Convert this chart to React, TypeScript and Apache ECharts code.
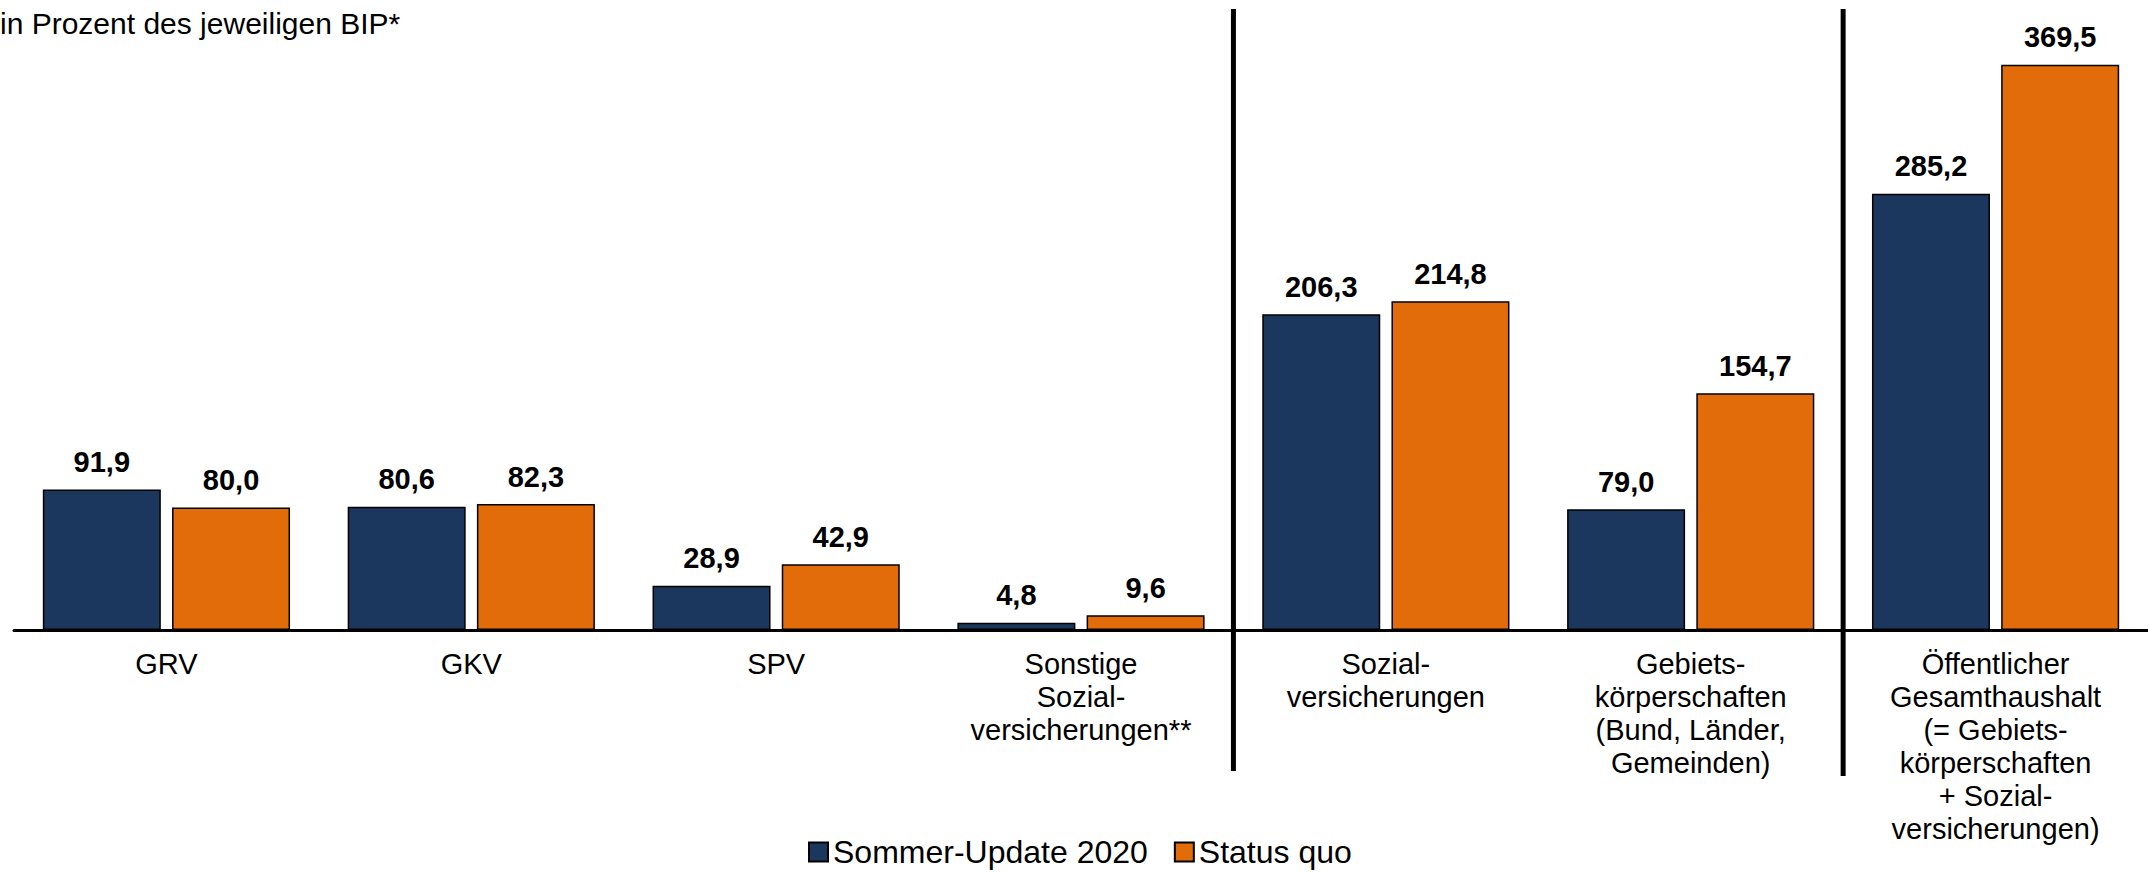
import React, { useEffect, useRef } from "react";
import * as echarts from "echarts";

const categories = [
  "GRV",
  "GKV",
  "SPV",
  "Sonstige\nSozial-\nversicherungen**",
  "Sozial-\nversicherungen",
  "Gebiets-\nkörperschaften\n(Bund, Länder,\nGemeinden)",
  "Öffentlicher\nGesamthaushalt\n(= Gebiets-\nkörperschaften\n+ Sozial-\nversicherungen)",
];
const sommerUpdate2020 = [91.9, 80.6, 28.9, 4.8, 206.3, 79.0, 285.2];
const statusQuo = [80.0, 82.3, 42.9, 9.6, 214.8, 154.7, 369.5];
const seriesNames = ["Sommer-Update 2020", "Status quo"];
const titleText = "in Prozent des jeweiligen BIP*";
// separators drawn after these category indices (between idx and idx+1)
const separatorAfter = [3, 5];

const FONT = "'Liberation Sans', Arial, Helvetica, sans-serif";
const BLUE = "#1B375E";
const ORANGE = "#E36C0A";

const fmt = (v: number) => v.toFixed(1).replace(".", ",");

export default function App() {
  const ref = useRef<HTMLDivElement>(null);
  useEffect(() => {
    if (!ref.current) return;
    const chart = echarts.init(ref.current, undefined, { renderer: "svg" });
    const labelCfg = {
      show: true,
      position: "top",
      distance: 13,
      fontFamily: FONT,
      fontWeight: "bold",
      fontSize: 29,
      color: "#000",
      formatter: (p: any) => fmt(p.value),
    };
    chart.setOption({
      animation: false,
      backgroundColor: "#fff",
      textStyle: { fontFamily: FONT },
      title: {
        text: titleText,
        left: 0,
        top: 8,
        padding: 0,
        textStyle: { fontFamily: FONT, fontSize: 30, fontWeight: "normal", color: "#000" },
      },
      legend: {
        data: seriesNames,
        left: 808,
        top: 836,
        padding: 0,
        itemWidth: 19,
        itemHeight: 19,
        itemGap: 26,
        itemTextGap: 5,
        icon: "rect",
        textStyle: { fontFamily: FONT, fontSize: 32, color: "#000" },
      },
      grid: { left: 14, right: -3, top: 18, bottom: 243, containLabel: false },
      xAxis: {
        type: "category",
        data: categories,
        axisLine: { show: true, lineStyle: { color: "#000", width: 3 } },
        axisTick: { show: false },
        axisLabel: {
          interval: 0,
          margin: 17,
          fontFamily: FONT,
          fontSize: 29,
          lineHeight: 33,
          color: "#000",
          align: "center",
        },
        splitLine: { show: false },
      },
      yAxis: {
        type: "value",
        min: 0,
        max: 400,
        show: false,
        splitLine: { show: false },
      },
      series: [
        {
          name: seriesNames[0],
          type: "bar",
          data: sommerUpdate2020,
          barWidth: 118,
          barGap: "9.5%",
          itemStyle: { color: BLUE, borderColor: "#000", borderWidth: 1.5 },
          label: labelCfg,
        },
        {
          name: seriesNames[1],
          type: "bar",
          data: statusQuo,
          barWidth: 118,
          barGap: "9.5%",
          itemStyle: { color: ORANGE, borderColor: "#000", borderWidth: 1.5 },
          label: labelCfg,
        },
      ],
    });
    const bottoms = [771, 776];
    const lines = separatorAfter.map((idx, i) => {
      const a = chart.convertToPixel({ xAxisIndex: 0 }, idx) as number;
      const b = chart.convertToPixel({ xAxisIndex: 0 }, idx + 1) as number;
      const x = (a + b) / 2;
      return {
        type: "line",
        shape: { x1: x, y1: 9, x2: x, y2: bottoms[i] },
        style: { stroke: "#000", lineWidth: 5 },
        z: 10,
      };
    });
    chart.setOption({ graphic: lines });
    return () => chart.dispose();
  }, []);
  return (
    <div
      ref={ref}
      style={{ position: "absolute", left: 0, top: 0, width: 2148, height: 873 }}
    />
  );
}
